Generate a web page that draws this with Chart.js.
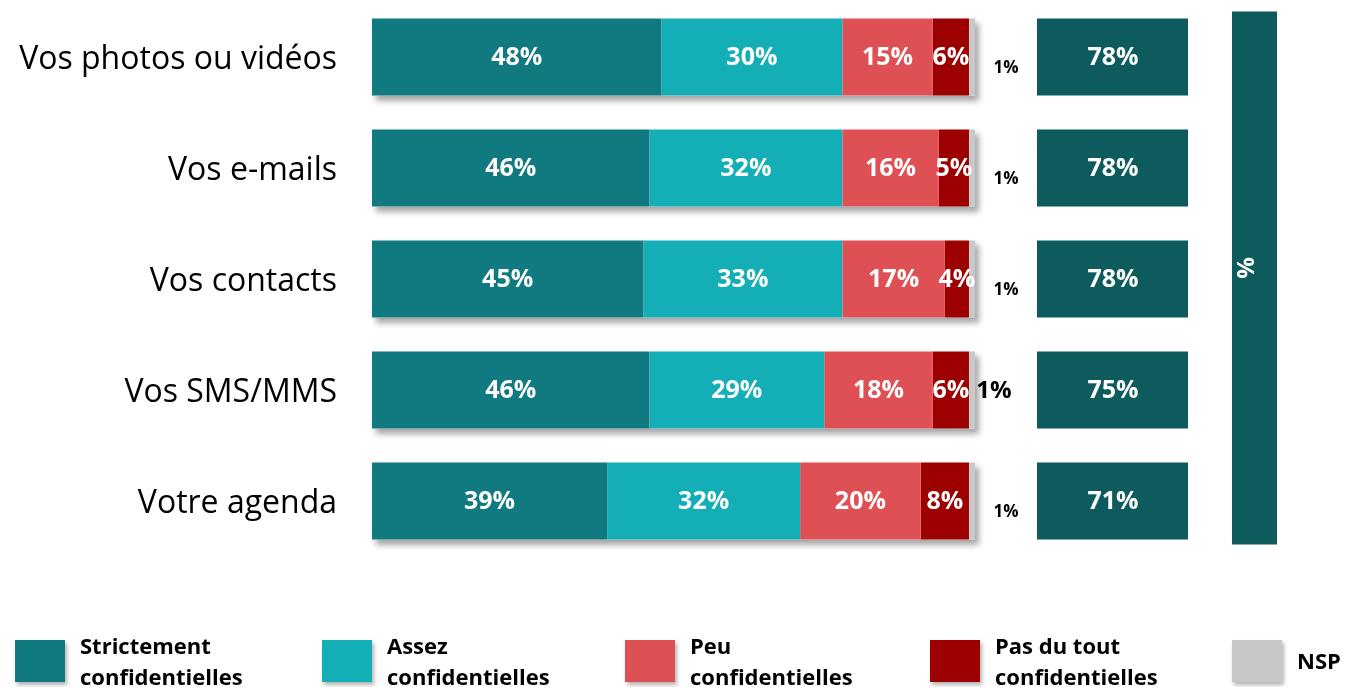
<!DOCTYPE html>
<html lang="fr">
<head>
<meta charset="utf-8">
<script src="https://cdn.jsdelivr.net/npm/chart.js@4/dist/chart.umd.min.js"></script>
<style>
  body { margin: 0; background: #fff; font-family: "Open Sans", sans-serif; }
  #wrap { position: relative; width: 1349px; height: 687px; overflow: hidden; }
  #legende { position: absolute; left: 0; top: 632px; width: 1349px; height: 57px; }
  .item { position: absolute; top: 0; height: 57px; display: flex; align-items: center; }
  .carre { width: 50px; height: 42px; box-shadow: 2px 3px 4px rgba(0,0,0,0.3); margin-right: 15px; flex: none; }
  .txt { font-weight: bold; font-size: 22px; line-height: 31px; color: #000; }
</style>
</head>
<body>
<div id="wrap">
  <canvas id="graphConfidentialite" width="1349" height="687"></canvas>
  <div id="legende"></div>
</div>
<script>
// Catégories et valeurs (%)
const categories = ['Vos photos ou vidéos', 'Vos e-mails', 'Vos contacts', 'Vos SMS/MMS', 'Votre agenda'];
const strictement = [48, 46, 45, 46, 39];
const assez = [30, 32, 33, 29, 32];
const peu = [15, 16, 17, 18, 20];
const pasDuTout = [6, 5, 4, 6, 8];
const nsp = [1, 1, 1, 1, 1];
const totalConfidentielles = [78, 78, 78, 75, 71];

const seriesNoms = [['Strictement', 'confidentielles'], ['Assez', 'confidentielles'], ['Peu', 'confidentielles'], ['Pas du tout', 'confidentielles'], ['NSP']];
const couleurs = ['#107a80', '#14afb6', '#df5055', '#9c0000', '#c8c8c8'];
const couleurTotal = '#0d5b5d';

const series = [strictement, assez, peu, pasDuTout, nsp];

// ombre sous les barres + étiquettes + colonne des totaux
const decor = {
    id: 'decor',
    beforeDatasetsDraw(chart) {
        const ctx = chart.ctx;
        const meta = chart.getDatasetMeta(0);
        const xs = chart.scales.x;
        ctx.save();
        ctx.shadowColor = 'rgba(0,0,0,0.35)';
        ctx.shadowBlur = 6;
        ctx.shadowOffsetX = 4;
        ctx.shadowOffsetY = 5;
        ctx.fillStyle = '#fff';
        meta.data.forEach(bar => {
            const x0 = xs.getPixelForValue(0);
            const x1 = xs.getPixelForValue(100);
            ctx.fillRect(x0, bar.y - bar.height / 2, x1 - x0, bar.height);
        });
        ctx.restore();
    },
    afterDatasetsDraw(chart) {
        const ctx = chart.ctx;
        const area = chart.chartArea;
        ctx.save();
        ctx.textAlign = 'center';
        ctx.textBaseline = 'middle';
        // valeurs dans les segments
        for (let d = 0; d < 4; d++) {
            const meta = chart.getDatasetMeta(d);
            meta.data.forEach((bar, i) => {
                ctx.fillStyle = '#fff';
                ctx.font = 'bold 25px "Open Sans"';
                ctx.fillText(series[d][i] + '%', (bar.x + bar.base) / 2, bar.y + 1);
            });
        }
        // NSP à l'extérieur
        const metaNsp = chart.getDatasetMeta(4);
        metaNsp.data.forEach((bar, i) => {
            ctx.fillStyle = '#000';
            if (i === 3) {
                ctx.font = 'bold 24px "Open Sans"';
                ctx.fillText(nsp[i] + '%', bar.x + 19, bar.y + 1);
            } else {
                ctx.font = 'bold 17px "Open Sans"';
                ctx.fillText(nsp[i] + '%', bar.x + 31, bar.y + 11);
            }
        });
        // colonne des totaux
        const meta = chart.getDatasetMeta(0);
        meta.data.forEach((bar, i) => {
            ctx.fillStyle = couleurTotal;
            ctx.fillRect(1037, bar.y - bar.height / 2, 151, bar.height);
            ctx.fillStyle = '#fff';
            ctx.font = 'bold 25px "Open Sans"';
            ctx.fillText(totalConfidentielles[i] + '%', 1113, bar.y + 1);
        });
        // bandeau vertical
        const top = area.top + 10, bas = area.bottom - 12;
        ctx.fillStyle = couleurTotal;
        ctx.fillRect(1232, top, 45, bas - top);
        ctx.translate(1247, 268);
        ctx.rotate(-Math.PI / 2);
        ctx.fillStyle = '#fff';
        ctx.font = 'bold 24px "Open Sans"';
        ctx.fillText('%', 0, 0);
        ctx.restore();
    }
};

const ctxGraph = document.getElementById('graphConfidentialite').getContext('2d');
const graph = new Chart(ctxGraph, {
    type: 'bar',
    data: {
        labels: categories,
        datasets: series.map((valeurs, k) => ({
            label: seriesNoms[k].join(' '),
            data: valeurs,
            backgroundColor: couleurs[k],
            borderWidth: 0,
            barPercentage: 1,
            categoryPercentage: 0.694
        }))
    },
    options: {
        indexAxis: 'y',
        responsive: false,
        animation: false,
        layout: { padding: { top: 1.5, bottom: 130.5, left: 0, right: 374 } },
        plugins: {
            legend: { display: false },
            tooltip: { enabled: false }
        },
        scales: {
            x: {
                stacked: true,
                display: false,
                min: 0,
                max: 100
            },
            y: {
                stacked: true,
                grid: { display: false },
                border: { display: false },
                ticks: {
                    color: '#000',
                    padding: 27,
                    labelOffset: 3,
                    font: { family: 'Open Sans', size: 32 }
                },
                afterFit(scale) {
                    scale.width = 372;
                    scale.paddingTop = 0;
                    scale.paddingBottom = 0;
                }
            }
        }
    },
    plugins: [decor]
});

// légende
const posLegende = [15, 322, 625, 930, 1232];
const legende = document.getElementById('legende');
seriesNoms.forEach((nom, k) => {
    const item = document.createElement('div');
    item.className = 'item';
    item.style.left = posLegende[k] + 'px';
    const carre = document.createElement('div');
    carre.className = 'carre';
    carre.style.background = couleurs[k];
    const txt = document.createElement('div');
    txt.className = 'txt';
    txt.innerHTML = nom.join('<br>');
    item.appendChild(carre);
    item.appendChild(txt);
    legende.appendChild(item);
});
</script>
</body>
</html>
